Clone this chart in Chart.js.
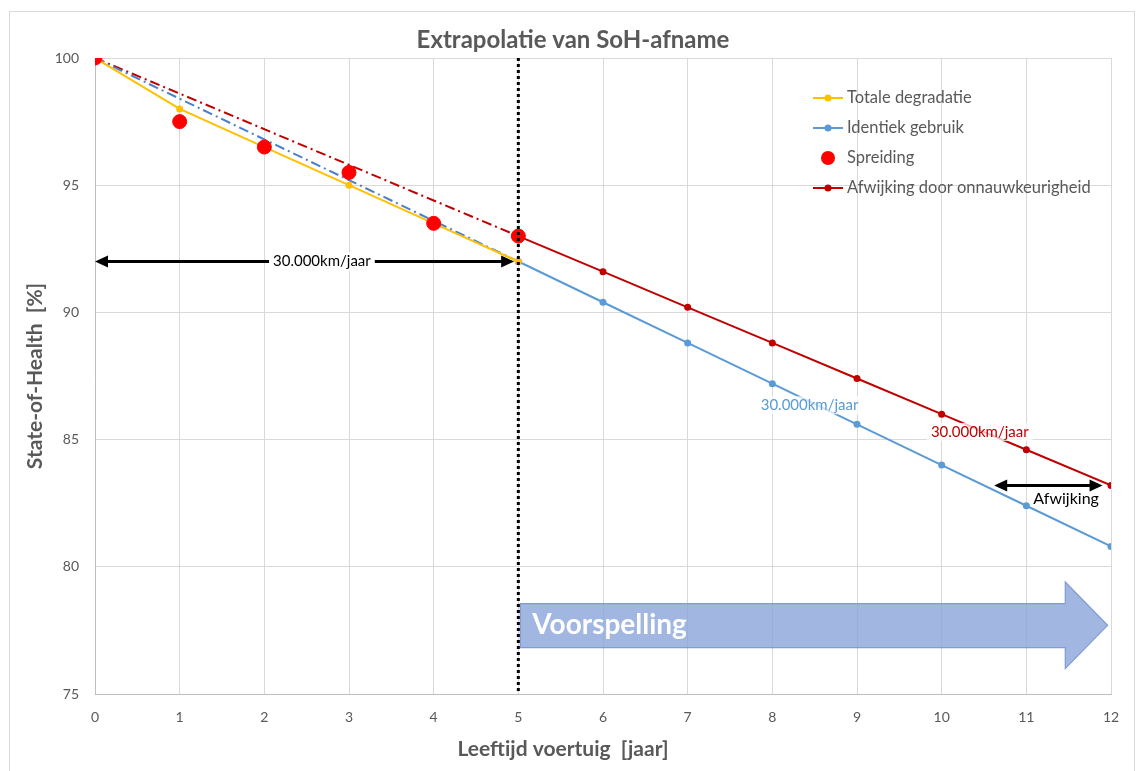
<!DOCTYPE html>
<html>
<head>
<meta charset="utf-8">
<script src="https://cdn.jsdelivr.net/npm/chart.js@4.4.0/dist/chart.umd.min.js"></script>
<style>
body{margin:0;background:#fff}
#wrap{width:1136px;height:771px;position:relative}
</style>
</head>
<body>
<div id="wrap"><canvas id="myChart"></canvas></div>
<script>
// data
const yearsPast=[0,1,2,3,4,5]
const yearsFuture=[5,6,7,8,9,10,11,12]
const totaleDegradatie=[100,98,96.5,95,93.5,92]
const spreiding=[100,97.5,96.5,95.5,93.5,93]
const identiekGebruik=[92,90.4,88.8,87.2,85.6,84,82.4,80.8]
const afwijking=[93,91.6,90.2,88.8,87.4,86,84.6,83.2]
const identiekExtrap=[100,92]   // dash-dot 0 -> 5
const afwijkingExtrap=[100,93]
const xTicks=[0,1,2,3,4,5,6,7,8,9,10,11,12]
const yTicks=[75,80,85,90,95,100]

const grey='#595959'
const yellow='#ffc000', blue='#5b9bd5', dkblue='#4a7fcb', red='#ff0000', dkred='#c00000'

function pts(xs,ys){return xs.map((x,i)=>({x:x,y:ys[i]}))}

const legendItems=[
    {text:'Totale degradatie',color:yellow,line:true,r:3.5},
    {text:'Identiek gebruik',color:blue,line:true,r:3.5},
    {text:'Spreiding',color:red,line:false,r:7},
    {text:'Afwijking door onnauwkeurigheid',color:dkred,line:true,r:3.5}
]

function arrowHead(ctx,x,y,dir){
    ctx.beginPath()
    ctx.moveTo(x,y)
    ctx.lineTo(x-dir*13,y-6)
    ctx.lineTo(x-dir*13,y+6)
    ctx.closePath()
    ctx.fill()
}
function doubleArrow(ctx,x1,x2,y){
    ctx.save()
    ctx.strokeStyle='#000';ctx.fillStyle='#000';ctx.lineWidth=3
    ctx.beginPath();ctx.moveTo(x1+10,y);ctx.lineTo(x2-10,y);ctx.stroke()
    arrowHead(ctx,x1,y,-1);arrowHead(ctx,x2,y,1)
    ctx.restore()
}
function label(ctx,txt,x,y,color,bg,size){
    ctx.save()
    ctx.font=(size||15)+'px Lato'
    ctx.textAlign='center';ctx.textBaseline='middle'
    let w=ctx.measureText(txt).width
    if(bg){ctx.fillStyle=bg;ctx.fillRect(x-w/2-4,y-9,w+8,18)}
    ctx.fillStyle=color
    ctx.fillText(txt,x,y)
    ctx.restore()
}

const extras={
    id:'extras',
    beforeDraw(chart){
        let ctx=chart.ctx
        ctx.save()
        ctx.strokeStyle='#d9d9d9';ctx.lineWidth=1
        ctx.strokeRect(9.5,11.5,1125,800)
        ctx.restore()
    },
    afterDraw(chart){
        // chart title and x axis title, centred on the whole chart like the original
        let ctx=chart.ctx
        ctx.save()
        ctx.fillStyle=grey
        ctx.textAlign='center';ctx.textBaseline='middle'
        ctx.font='bold 24px Lato'
        ctx.fillText('Extrapolatie van SoH-afname',573,40)
        ctx.font='bold 21px Lato'
        ctx.fillText('Leeftijd voertuig  [jaar]',563,749)
        ctx.restore()
    },
    afterDatasetsDraw(chart){
        let ctx=chart.ctx, xs=chart.scales.x, ys=chart.scales.y, a=chart.chartArea
        let px=v=>xs.getPixelForValue(v), py=v=>ys.getPixelForValue(v)

        // forecast arrow
        ctx.save()
        ctx.beginPath()
        ctx.moveTo(px(5)+2,py(78.55))
        ctx.lineTo(px(11.46),py(78.55))
        ctx.lineTo(px(11.46),py(79.4))
        ctx.lineTo(px(11.96),py(77.7))
        ctx.lineTo(px(11.46),py(76.0))
        ctx.lineTo(px(11.46),py(76.82))
        ctx.lineTo(px(5)+2,py(76.82))
        ctx.closePath()
        ctx.fillStyle='rgba(134,163,217,0.78)'
        ctx.fill()
        ctx.strokeStyle='#7f9bd3';ctx.lineWidth=1.2
        ctx.stroke()
        ctx.fillStyle='#fff'
        ctx.font='bold 28px Lato'
        ctx.textBaseline='middle'
        ctx.fillText('Voorspelling',px(5)+14,py(77.7))
        ctx.restore()

        // dotted line at year 5
        ctx.save()
        ctx.strokeStyle='#000';ctx.lineWidth=3;ctx.setLineDash([3,3])
        ctx.beginPath();ctx.moveTo(px(5),a.top);ctx.lineTo(px(5),a.bottom);ctx.stroke()
        ctx.restore()

        // arrows and labels
        doubleArrow(ctx,px(0),px(4.95),py(92))
        label(ctx,'30.000km/jaar',px(2.68),py(92),'#000','#fff')
        doubleArrow(ctx,px(10.62),px(11.9),py(83.2))
        label(ctx,'Afwijking',px(11.47),py(82.67),'#000',null,16)
        label(ctx,'30.000km/jaar',px(8.44),py(86.35),blue,'rgba(255,255,255,0.75)')
        label(ctx,'30.000km/jaar',px(10.45),py(85.3),dkred,'rgba(255,255,255,0.75)')

        // legend inside plot
        ctx.save()
        ctx.font='16.5px Lato';ctx.textBaseline='middle'
        legendItems.forEach((it,i)=>{
            let y=98+i*30, x0=a.right-298
            ctx.fillStyle=it.color;ctx.strokeStyle=it.color;ctx.lineWidth=2
            if(it.line){ctx.beginPath();ctx.moveTo(x0,y);ctx.lineTo(x0+30,y);ctx.stroke()}
            ctx.beginPath();ctx.arc(x0+15,y,it.r,0,Math.PI*2);ctx.fill()
            ctx.fillStyle=grey
            ctx.fillText(it.text,x0+34,y)
        })
        ctx.restore()
    }
}

Chart.defaults.font.family='Lato'
Chart.defaults.color=grey

new Chart(document.getElementById('myChart'),{
    type:'line',
    data:{datasets:[
        {label:'Spreiding',data:pts(yearsPast,spreiding),showLine:false,
         pointRadius:7,pointBackgroundColor:red,pointBorderColor:red,borderColor:red},
        {label:'Totale degradatie',data:pts(yearsPast,totaleDegradatie),borderColor:yellow,
         backgroundColor:yellow,borderWidth:2,pointRadius:3.5,pointBorderWidth:0},
        {label:'Identiek gebruik extrapolatie',data:pts([0,5],identiekExtrap),borderColor:dkblue,
         borderWidth:2,borderDash:[10,4,2,4],pointRadius:0},
        {label:'Afwijking extrapolatie',data:pts([0,5],afwijkingExtrap),borderColor:dkred,
         borderWidth:2,borderDash:[10,4,2,4],pointRadius:0},
        {label:'Identiek gebruik',data:pts(yearsFuture,identiekGebruik),borderColor:blue,
         backgroundColor:blue,borderWidth:2,pointRadius:3.5,pointBorderWidth:0},
        {label:'Afwijking door onnauwkeurigheid',data:pts(yearsFuture,afwijking),borderColor:dkred,
         backgroundColor:dkred,borderWidth:2,pointRadius:3.5,pointBorderWidth:0}
    ]},
    options:{
        responsive:true,maintainAspectRatio:false,animation:false,
        layout:{padding:{left:9,right:25,top:58,bottom:8}},
        plugins:{
            legend:{display:false},
            tooltip:{enabled:false},
            title:{display:false}
        },
        scales:{
            x:{type:'linear',min:0,max:12,
               afterBuildTicks:s=>{s.ticks=xTicks.map(v=>({value:v}))},
               afterFit:s=>{s.height=69},
               grid:{color:'#d9d9d9',drawTicks:false},
               border:{color:'#bfbfbf'},
               ticks:{padding:15,font:{size:14},color:grey},
               title:{display:false}},
            y:{min:75,max:100,
               afterBuildTicks:s=>{s.ticks=yTicks.map(v=>({value:v}))},
               afterFit:s=>{s.width=86},
               grid:{color:'#d9d9d9',drawTicks:false},
               border:{color:'#bfbfbf'},
               ticks:{padding:16,font:{size:14},color:grey},
               title:{display:true,text:'State-of-Health  [%]',color:grey,
                      font:{size:21,weight:'bold'},padding:{top:14,bottom:0}}}
        }
    },
    plugins:[extras]
})
</script>
</body>
</html>
